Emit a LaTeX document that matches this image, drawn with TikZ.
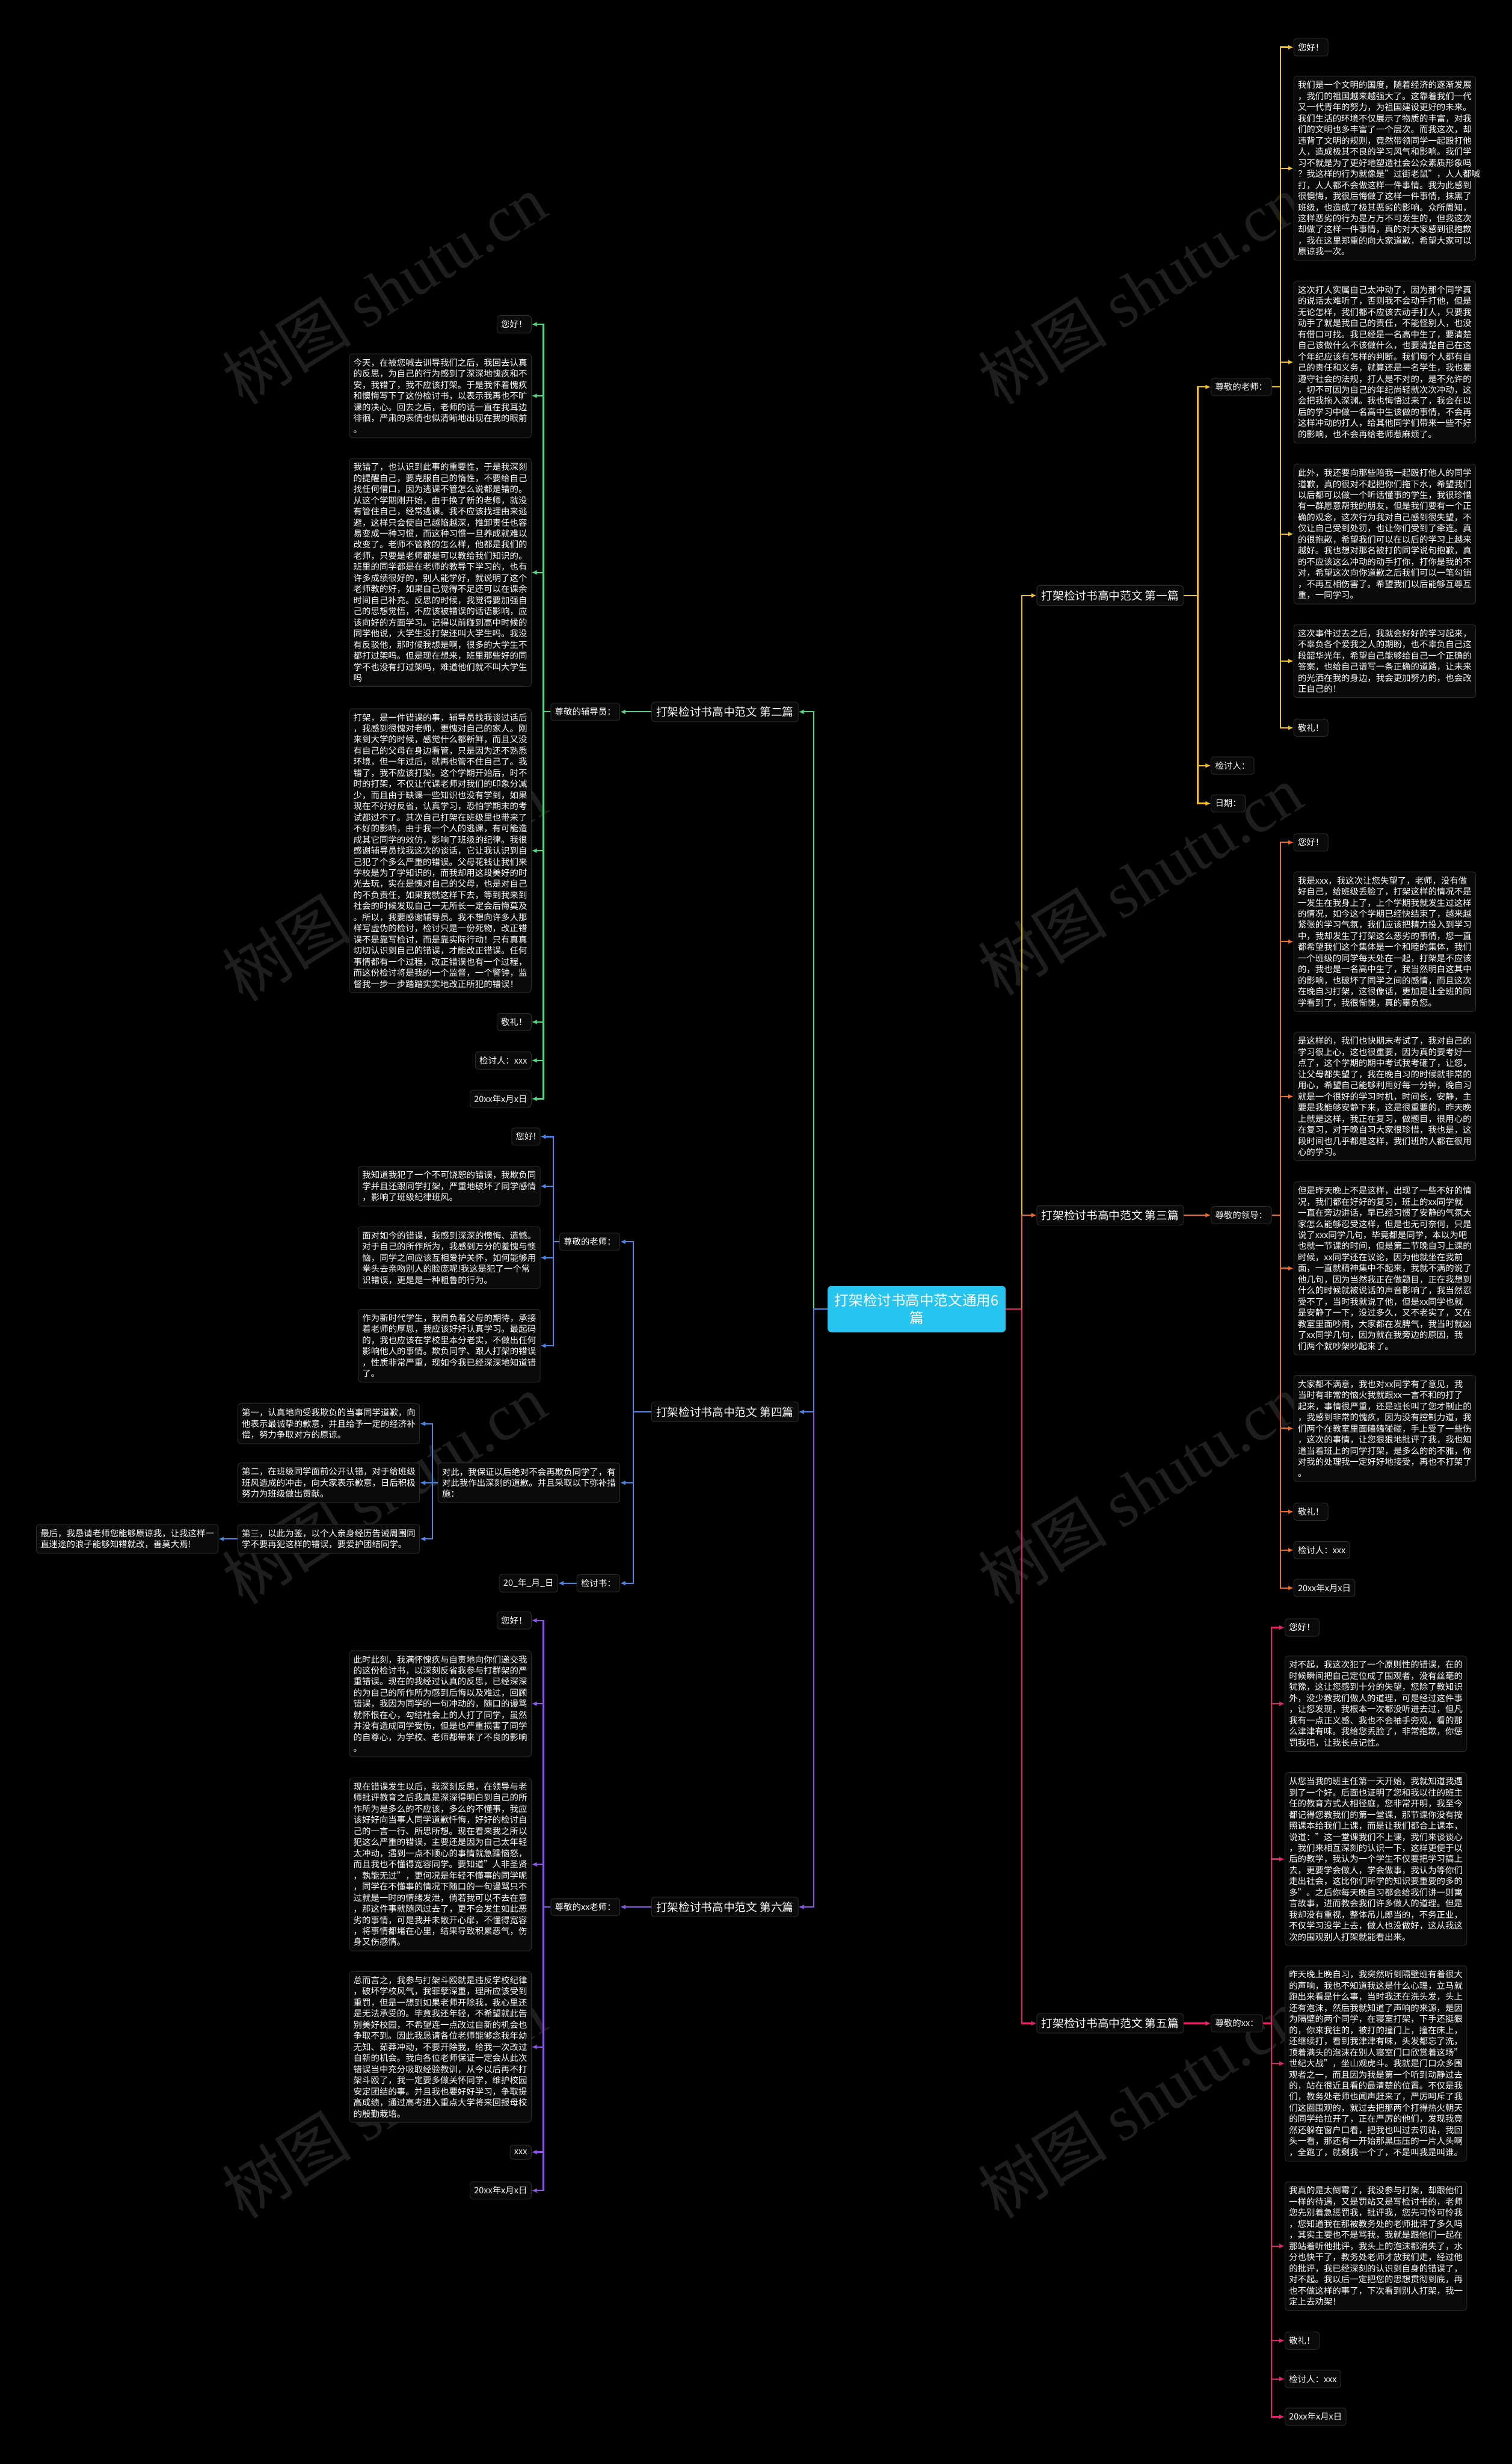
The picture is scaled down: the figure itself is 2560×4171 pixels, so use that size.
\documentclass[tikz,border=0pt]{standalone}
\usepackage{fontspec}
\setmainfont{Noto Sans CJK SC}
\newfontfamily\wmserif{Liberation Serif}
\usetikzlibrary{arrows.meta}
\definecolor{cyel}{RGB}{240,192,40}
\definecolor{corg}{RGB}{238,106,44}
\definecolor{cpink}{RGB}{228,36,106}
\definecolor{cgrn}{RGB}{80,218,128}
\definecolor{cblu}{RGB}{74,134,232}
\definecolor{cpur}{RGB}{142,84,232}
\definecolor{ccyan}{RGB}{40,196,240}
\definecolor{boxf}{RGB}{10,10,10}
\definecolor{boxb}{RGB}{42,42,42}
\definecolor{wmc}{RGB}{30,30,30}
\newcommand\leaffont{\fontsize{14.7}{18.8}\selectfont}
\newcommand\lonefont{\fontsize{19}{23}\selectfont}
\newcommand\ctrfont{\fontsize{24}{30}\selectfont}
\newcommand\wmfont{\fontsize{110}{114}\selectfont}
\begin{document}
\begin{tikzpicture}[x=1pt,y=-1pt,
  box/.style={draw=boxb, line width=1pt, fill=boxf, rounded corners=5pt, text=white, font=\leaffont, inner xsep=7pt, inner ysep=8pt},
  para/.style={box, text width=294pt, align=left},
  lone/.style={box, font=\lonefont, inner xsep=8pt, inner ysep=8pt},
  ctr/.style={fill=ccyan, rounded corners=6pt, text=white, font=\ctrfont, align=center, inner xsep=12pt, inner ysep=13pt},
  conn/.style={line width=2.2pt, -{Latex[length=9pt,width=8pt]}},
  wm/.style={text=wmc, font=\wmfont, rotate=32, inner sep=0pt}]
\fill[black] (0,0) rectangle (2560,4171);
\useasboundingbox (0,0) rectangle (2560,4171);
% watermarks
\node[wm] (wm1) at (650,490) {树图 {\wmserif shutu.cn}};
\node[wm] (wm2) at (1930,490) {树图 {\wmserif shutu.cn}};
\node[wm] (wm3) at (650,1500) {树图 {\wmserif shutu.cn}};
\node[wm] (wm4) at (1930,1490) {树图 {\wmserif shutu.cn}};
\node[wm] (wm5) at (650,2520) {树图 {\wmserif shutu.cn}};
\node[wm] (wm6) at (1930,2520) {树图 {\wmserif shutu.cn}};
\node[wm] (wm7) at (650,3560) {树图 {\wmserif shutu.cn}};
\node[wm] (wm8) at (1930,3560) {树图 {\wmserif shutu.cn}};

% center
\node[ctr] (ctr) at (1552,2216) {打架检讨书高中范文通用6\\篇};
\coordinate (cR) at (1730,2216);
\coordinate (cL) at (1378,2216);

% level 1
\node[lone, anchor=west] (b1) at (1755,1008) {打架检讨书高中范文 第一篇};
\node[lone, anchor=west] (b3) at (1755,2057) {打架检讨书高中范文 第三篇};
\node[lone, anchor=west] (b5) at (1755,3425) {打架检讨书高中范文 第五篇};
\node[lone, anchor=east] (b2) at (1352,1205) {打架检讨书高中范文 第二篇};
\node[lone, anchor=east] (b4) at (1352,2390) {打架检讨书高中范文 第四篇};
\node[lone, anchor=east] (b6) at (1352,3228) {打架检讨书高中范文 第六篇};

\draw[conn, cyel] (ctr.east) -- (cR) |- (b1.west);
\draw[conn, corg] (ctr.east) -- (cR) |- (b3.west);
\draw[conn, cpink] (ctr.east) -- (cR) |- (b5.west);
\draw[conn, cgrn] (ctr.west) -- (cL) |- (b2.east);
\draw[conn, cpur] (ctr.west) -- (cL) |- (b6.east);
\draw[conn, cblu] (ctr.west) -- (cL) |- (b4.east);

% ================= branch 1 (yellow)
\node[box, anchor=west] (r1t) at (2050,655) {尊敬的老师：};
\node[box, anchor=west] (r1r) at (2050,1296) {检讨人：};
\node[box, anchor=west] (r1d) at (2050,1360) {日期：};
\coordinate (v1) at (2028,1008);
\draw[conn, cyel] (b1.east) -- (v1) |- (r1t.west);
\draw[conn, cyel] (b1.east) -- (v1) |- (r1r.west);
\draw[conn, cyel] (b1.east) -- (v1) |- (r1d.west);

\node[box, anchor=west] (r1hi) at (2190,80) {您好！};
\node[para, anchor=west] (r1p1) at (2190,285) {我们是一个文明的国度，随着经济的逐渐发展\\，我们的祖国越来越强大了。这靠着我们一代\\又一代青年的努力，为祖国建设更好的未来。\\我们生活的环境不仅展示了物质的丰富，对我\\们的文明也多丰富了一个层次。而我这次，却\\违背了文明的规则，竟然带领同学一起殴打他\\人，造成极其不良的学习风气和影响。我们学\\习不就是为了更好地塑造社会公众素质形象吗\\？我这样的行为就像是"过街老鼠"，人人都喊\\打，人人都不会做这样一件事情。我为此感到\\很懊悔，我很后悔做了这样一件事情，抹黑了\\班级，也造成了极其恶劣的影响。众所周知，\\这样恶劣的行为是万万不可发生的，但我这次\\却做了这样一件事情，真的对大家感到很抱歉\\，我在这里郑重的向大家道歉，希望大家可以\\原谅我一次。};
\node[para, anchor=west] (r1p2) at (2190,613) {这次打人实属自己太冲动了，因为那个同学真\\的说话太难听了，否则我不会动手打他，但是\\无论怎样，我们都不应该去动手打人，只要我\\动手了就是我自己的责任，不能怪别人，也没\\有借口可找。我已经是一名高中生了，要清楚\\自己该做什么不该做什么，也要清楚自己在这\\个年纪应该有怎样的判断。我们每个人都有自\\己的责任和义务，就算还是一名学生，我也要\\遵守社会的法规，打人是不对的，是不允许的\\，切不可因为自己的年纪尚轻就次次冲动，这\\会把我拖入深渊。我也悔悟过来了，我会在以\\后的学习中做一名高中生该做的事情，不会再\\这样冲动的打人，给其他同学们带来一些不好\\的影响，也不会再给老师惹麻烦了。};
\node[para, anchor=west] (r1p3) at (2190,904) {此外，我还要向那些陪我一起殴打他人的同学\\道歉，真的很对不起把你们拖下水，希望我们\\以后都可以做一个听话懂事的学生，我很珍惜\\有一群愿意帮我的朋友，但是我们要有一个正\\确的观念，这次行为我对自己感到很失望，不\\仅让自己受到处罚，也让你们受到了牵连。真\\的很抱歉，希望我们可以在以后的学习上越来\\越好。我也想对那名被打的同学说句抱歉，真\\的不应该这么冲动的动手打你，打你是我的不\\对，希望这次向你道歉之后我们可以一笔勾销\\，不再互相伤害了。希望我们以后能够互尊互\\重，一同学习。};
\node[para, anchor=west] (r1p4) at (2190,1119) {这次事件过去之后，我就会好好的学习起来，\\不辜负各个爱我之人的期盼，也不辜负自己这\\段韶华光年，希望自己能够给自己一个正确的\\答案，也给自己谱写一条正确的道路，让未来\\的光洒在我的身边，我会更加努力的，也会改\\正自己的！};
\node[box, anchor=west] (r1jl) at (2190,1232) {敬礼！};
\coordinate (v1a) at (2168,655);
\foreach \n in {r1hi,r1p1,r1p2,r1p3,r1p4,r1jl}
  \draw[conn, cyel] (r1t.east) -- (v1a) |- (\n.west);

% ================= branch 3 (orange)
\node[box, anchor=west] (r3t) at (2050,2057) {尊敬的领导：};
\draw[conn, corg] (b3.east) -- (r3t.west);
\node[box, anchor=west] (r3hi) at (2190,1426) {您好！};
\node[para, anchor=west] (r3p1) at (2190,1594) {我是xxx，我这次让您失望了，老师，没有做\\好自己，给班级丢脸了，打架这样的情况不是\\一发生在我身上了，上个学期我就发生过这样\\的情况，如今这个学期已经快结束了，越来越\\紧张的学习气氛，我们应该把精力投入到学习\\中，我却发生了打架这么恶劣的事情，您一直\\都希望我们这个集体是一个和睦的集体，我们\\一个班级的同学每天处在一起，打架是不应该\\的，我也是一名高中生了，我当然明白这其中\\的影响，也破坏了同学之间的感情，而且这次\\在晚自习打架，这很像话，更加是让全班的同\\学看到了，我很惭愧，真的辜负您。};
\node[para, anchor=west] (r3p2) at (2190,1856) {是这样的，我们也快期末考试了，我对自己的\\学习很上心，这也很重要，因为真的要考好一\\点了，这个学期的期中考试我考砸了，让您，\\让父母都失望了，我在晚自习的时候就非常的\\用心，希望自己能够利用好每一分钟，晚自习\\就是一个很好的学习时机，时间长，安静，主\\要是我能够安静下来，这是很重要的，昨天晚\\上就是这样，我正在复习，做题目，很用心的\\在复习，对于晚自习大家很珍惜，我也是，这\\段时间也几乎都是这样，我们班的人都在很用\\心的学习。};
\node[para, anchor=west] (r3p3) at (2190,2147) {但是昨天晚上不是这样，出现了一些不好的情\\况，我们都在好好的复习，班上的xx同学就\\一直在旁边讲话，早已经习惯了安静的气氛大\\家怎么能够忍受这样，但是也无可奈何，只是\\说了xxx同学几句，毕竟都是同学，本以为吧\\也就一节课的时间，但是第二节晚自习上课的\\时候，xx同学还在议论，因为他就坐在我前\\面，一直就精神集中不起来，我就不满的说了\\他几句，因为当然我正在做题目，正在我想到\\什么的时候就被说话的声音影响了，我当然忍\\受不了，当时我就说了他，但是xx同学也就\\是安静了一下，没过多久，又不老实了，又在\\教室里面吵闹，大家都在发脾气，我当时就凶\\了xx同学几句，因为就在我旁边的原因，我\\们两个就吵架吵起来了。};
\node[para, anchor=west] (r3p4) at (2190,2418) {大家都不满意，我也对xx同学有了意见，我\\当时有非常的恼火我就跟xx一言不和的打了\\起来，事情很严重，还是班长叫了您才制止的\\，我感到非常的愧疚，因为没有控制力道，我\\们两个在教室里面磕磕碰碰，手上受了一些伤\\，这次的事情，让您狠狠地批评了我，我也知\\道当着班上的同学打架，是多么的的不雅，你\\对我的处理我一定好好地接受，再也不打架了\\。};
\node[box, anchor=west] (r3jl) at (2190,2559) {敬礼！};
\node[box, anchor=west] (r3r) at (2190,2624) {检讨人：xxx};
\node[box, anchor=west] (r3d) at (2190,2688) {20xx年x月x日};
\coordinate (v3) at (2168,2057);
\foreach \n in {r3hi,r3p1,r3p2,r3p3,r3p4,r3jl,r3r,r3d}
  \draw[conn, corg] (r3t.east) -- (v3) |- (\n.west);

% ================= branch 5 (pink)
\node[box, anchor=west] (r5t) at (2050,3425) {尊敬的xx：};
\draw[conn, cpink] (b5.east) -- (r5t.west);
\node[box, anchor=west] (r5hi) at (2175,2755) {您好！};
\node[para, anchor=west] (r5p1) at (2175,2884) {对不起，我这次犯了一个原则性的错误，在的\\时候瞬间把自己定位成了围观者，没有丝毫的\\犹豫，这让您感到十分的失望，您除了教知识\\外，没少教我们做人的道理，可是经过这件事\\，让您发现，我根本一次都没听进去过，但凡\\我有一点正义感、我也不会袖手旁观，看的那\\么津津有味。我给您丢脸了，非常抱歉，你惩\\罚我吧，让我长点记性。};
\node[para, anchor=west] (r5p2) at (2175,3147) {从您当我的班主任第一天开始，我就知道我遇\\到了一个好。后面也证明了您和我以往的班主\\任的教育方式大相径庭，您非常开明，我至今\\都记得您教我们的第一堂课，那节课你没有按\\照课本给我们上课，而是让我们都合上课本，\\说道："这一堂课我们不上课，我们来谈谈心\\，我们来相互深刻的认识一下，这样更便于以\\后的教学，我认为一个学生不仅要把学习搞上\\去，更要学会做人，学会做事，我认为等你们\\走出社会，这比你们所学的知识要重要的多的\\多"。之后你每天晚自习都会给我们讲一则寓\\言故事，进而教会我们许多做人的道理。但是\\我却没有重视，整体吊儿郎当的，不务正业，\\不仅学习没学上去，做人也没做好，这从我这\\次的围观别人打架就能看出来。};
\node[para, anchor=west] (r5p3) at (2175,3493) {昨天晚上晚自习，我突然听到隔壁班有着很大\\的声响，我也不知道我这是什么心理，立马就\\跑出来看是什么事，当时我还在洗头发，头上\\还有泡沫，然后我就知道了声响的来源，是因\\为隔壁的两个同学，在寝室打架，下手还挺狠\\的，你来我往的，被打的撞门上，撞在床上，\\还继续打，看到我津津有味，头发都忘了洗，\\顶着满头的泡沫在别人寝室门口欣赏着这场"\\世纪大战"，坐山观虎斗。我就是门口众多围\\观者之一，而且因为我是第一个听到动静过去\\的，站在很近且看的最清楚的位置。不仅是我\\们，教务处老师也闻声赶来了，严厉呵斥了我\\们这圈围观的，就过去把那两个打得热火朝天\\的同学给拉开了，正在严厉的他们，发现我竟\\然还躲在窗户口看，把我也叫过去罚站，我回\\头一看，那还有一开始那黑压压的一片人头啊\\，全跑了，就剩我一个了，不是叫我是叫谁。};
\node[para, anchor=west] (r5p4) at (2175,3802) {我真的是太倒霉了，我没参与打架，却跟他们\\一样的待遇，又是罚站又是写检讨书的，老师\\您先别着急惩罚我，批评我，您先可怜可怜我\\，您知道我在那被教务处的老师批评了多久吗\\，其实主要也不是骂我，我就是跟他们一起在\\那站着听他批评，我头上的泡沫都消失了，水\\分也快干了，教务处老师才放我们走，经过他\\的批评，我已经深刻的认识到自身的错误了，\\对不起。我以后一定把您的思想贯彻到底，再\\也不做这样的事了，下次看到别人打架，我一\\定上去劝架！};
\node[box, anchor=west] (r5jl) at (2175,3962) {敬礼！};
\node[box, anchor=west] (r5r) at (2175,4027) {检讨人：xxx};
\node[box, anchor=west] (r5d) at (2175,4091) {20xx年x月x日};
\coordinate (v5) at (2153,3425);
\foreach \n in {r5hi,r5p1,r5p2,r5p3,r5p4,r5jl,r5r,r5d}
  \draw[conn, cpink] (r5t.east) -- (v5) |- (\n.west);

% ================= branch 2 (green)
\node[box, anchor=east] (l2t) at (1050,1205) {尊敬的辅导员：};
\draw[conn, cgrn] (b2.west) -- (l2t.east);
\node[box, anchor=east] (l2hi) at (900,549) {您好！};
\node[para, anchor=east] (l2p1) at (900,670) {今天，在被您喊去训导我们之后，我回去认真\\的反思，为自己的行为感到了深深地愧疚和不\\安，我错了，我不应该打架。于是我怀着愧疚\\和懊悔写下了这份检讨书，以表示我再也不旷\\课的决心。回去之后，老师的话一直在我耳边\\徘徊，严肃的表情也似清晰地出现在我的眼前\\。};
\node[para, anchor=east] (l2p2) at (900,969) {我错了，也认识到此事的重要性，于是我深刻\\的提醒自己，要克服自己的惰性，不要给自己\\找任何借口，因为逃课不管怎么说都是错的。\\从这个学期刚开始，由于换了新的老师，就没\\有管住自己，经常逃课。我不应该找理由来逃\\避，这样只会使自己越陷越深，推卸责任也容\\易变成一种习惯，而这种习惯一旦养成就难以\\改变了。老师不管教的怎么样，他都是我们的\\老师，只要是老师都是可以教给我们知识的。\\班里的同学都是在老师的教导下学习的，也有\\许多成绩很好的，别人能学好，就说明了这个\\老师教的好，如果自己觉得不足还可以在课余\\时间自己补充。反思的时候，我觉得要加强自\\己的思想觉悟，不应该被错误的话语影响，应\\该向好的方面学习。记得以前碰到高中时候的\\同学他说，大学生没打架还叫大学生吗。我没\\有反驳他，那时候我想是啊，很多的大学生不\\都打过架吗。但是现在想来，班里那些好的同\\学不也没有打过架吗，难道他们就不叫大学生\\吗};
\node[para, anchor=east] (l2p3) at (900,1440) {打架，是一件错误的事，辅导员找我谈过话后\\，我感到很愧对老师，更愧对自己的家人。刚\\来到大学的时候，感觉什么都新鲜，而且又没\\有自己的父母在身边看管，只是因为还不熟悉\\环境，但一年过后，就再也管不住自己了。我\\错了，我不应该打架。这个学期开始后，时不\\时的打架，不仅让代课老师对我们的印象分减\\少，而且由于缺课一些知识也没有学到，如果\\现在不好好反省，认真学习，恐怕学期末的考\\试都过不了。其次自己打架在班级里也带来了\\不好的影响，由于我一个人的逃课，有可能造\\成其它同学的效仿，影响了班级的纪律。我很\\感谢辅导员找我这次的谈话，它让我认识到自\\己犯了个多么严重的错误。父母花钱让我们来\\学校是为了学知识的，而我却用这段美好的时\\光去玩，实在是愧对自己的父母，也是对自己\\的不负责任，如果我就这样下去，等到我来到\\社会的时候发现自己一无所长一定会后悔莫及\\。所以，我要感谢辅导员。我不想向许多人那\\样写虚伪的检讨，检讨只是一份死物，改正错\\误不是靠写检讨，而是靠实际行动！只有真真\\切切认识到自己的错误，才能改正错误。任何\\事情都有一个过程，改正错误也有一个过程，\\而这份检讨将是我的一个监督，一个警钟，监\\督我一步一步踏踏实实地改正所犯的错误！};
\node[box, anchor=east] (l2jl) at (900,1730) {敬礼！};
\node[box, anchor=east] (l2r) at (900,1795) {检讨人：xxx};
\node[box, anchor=east] (l2d) at (900,1860) {20xx年x月x日};
\coordinate (v2) at (920,1205);
\foreach \n in {l2hi,l2p1,l2p2,l2p3,l2jl,l2r,l2d}
  \draw[conn, cgrn] (l2t.west) -- (v2) |- (\n.east);

% ================= branch 4 (blue)
\coordinate (v4) at (1072,2390);
\node[box, anchor=east] (l4t) at (1050,2102) {尊敬的老师：};
\node[para, anchor=east] (l4d) at (1050,2510) {对此，我保证以后绝对不会再欺负同学了，有\\对此我作出深刻的道歉。并且采取以下弥补措\\施：};
\node[box, anchor=east] (l4s) at (1050,2680) {检讨书：};
\foreach \n in {l4t,l4d,l4s}
  \draw[conn, cblu] (b4.west) -- (v4) |- (\n.east);

\node[box, anchor=east] (l4hi) at (915,1924) {您好!};
\node[para, anchor=east] (l4p1) at (915,2008) {我知道我犯了一个不可饶恕的错误，我欺负同\\学并且还跟同学打架，严重地破坏了同学感情\\，影响了班级纪律班风。};
\node[para, anchor=east] (l4p2) at (915,2129) {面对如今的错误，我感到深深的懊悔、遗憾。\\对于自己的所作所为，我感到万分的羞愧与懊\\恼，同学之间应该互相爱护关怀，如何能够用\\拳头去亲吻别人的脸庞呢!我这是犯了一个常\\识错误，更是是一种粗鲁的行为。};
\node[para, anchor=east] (l4p3) at (915,2278) {作为新时代学生，我肩负着父母的期待，承接\\着老师的厚恩，我应该好好认真学习。最起码\\的，我也应该在学校里本分老实，不做出任何\\影响他人的事情。欺负同学、跟人打架的错误\\，性质非常严重，现如今我已经深深地知道错\\了。};
\coordinate (v4a) at (937,2102);
\foreach \n in {l4hi,l4p1,l4p2,l4p3}
  \draw[conn, cblu] (l4t.west) -- (v4a) |- (\n.east);

\node[para, anchor=east] (l4f1) at (711,2410) {第一，认真地向受我欺负的当事同学道歉，向\\他表示最诚挚的歉意，并且给予一定的经济补\\偿，努力争取对方的原谅。};
\node[para, anchor=east] (l4f2) at (711,2510) {第二，在班级同学面前公开认错，对于给班级\\班风造成的冲击，向大家表示歉意，日后积极\\努力为班级做出贡献。};
\node[para, anchor=east] (l4f3) at (711,2605) {第三，以此为鉴，以个人亲身经历告诫周围同\\学不要再犯这样的错误，要爱护团结同学。};
\coordinate (v4b) at (732,2510);
\foreach \n in {l4f1,l4f2,l4f3}
  \draw[conn, cblu] (l4d.west) -- (v4b) |- (\n.east);
\node[para, anchor=east] (l4f4) at (370,2605) {最后，我恳请老师您能够原谅我，让我这样一\\直迷途的浪子能够知错就改，善莫大焉!};
\draw[conn, cblu] (l4f3.west) -- (l4f4.east);
\node[box, anchor=east] (l4dt) at (945,2680) {20\_年\_月\_日};
\draw[conn, cblu] (l4s.west) -- (l4dt.east);

% ================= branch 6 (purple)
\node[box, anchor=east] (l6t) at (1050,3228) {尊敬的xx老师：};
\draw[conn, cpur] (b6.west) -- (l6t.east);
\node[box, anchor=east] (l6hi) at (900,2743) {您好！};
\node[para, anchor=east] (l6p1) at (900,2884) {此时此刻，我满怀愧疚与自责地向你们递交我\\的这份检讨书，以深刻反省我参与打群架的严\\重错误。现在的我经过认真的反思，已经深深\\的为自己的所作所为感到后悔以及难过，回顾\\错误，我因为同学的一句冲动的，随口的谩骂\\就怀恨在心，勾结社会上的人打了同学，虽然\\并没有造成同学受伤，但是也严重损害了同学\\的自尊心，为学校、老师都带来了不良的影响\\。};
\node[para, anchor=east] (l6p2) at (900,3156) {现在错误发生以后，我深刻反思，在领导与老\\师批评教育之后我真是深深得明白到自己的所\\作所为是多么的不应该，多么的不懂事，我应\\该好好向当事人同学道歉忏悔，好好的检讨自\\己的一言一行、所思所想。现在看来我之所以\\犯这么严重的错误，主要还是因为自己太年轻\\太冲动，遇到一点不顺心的事情就急躁恼怒，\\而且我也不懂得宽容同学。要知道"人非圣贤\\，孰能无过"，更何况是年轻不懂事的同学呢\\，同学在不懂事的情况下随口的一句谩骂只不\\过就是一时的情绪发泄，倘若我可以不去在意\\，那这件事就随风过去了，更不会发生如此恶\\劣的事情，可是我并未敞开心扉，不懂得宽容\\，将事情都堵在心里，结果导致积累恶气，伤\\身又伤感情。};
\node[para, anchor=east] (l6p3) at (900,3465) {总而言之，我参与打架斗殴就是违反学校纪律\\，破坏学校风气，我罪孽深重，理所应该受到\\重罚，但是一想到如果老师开除我，我心里还\\是无法承受的。毕竟我还年轻，不希望就此告\\别美好校园，不希望连一点改过自新的机会也\\争取不到。因此我恳请各位老师能够念我年幼\\无知、茹莽冲动，不要开除我，给我一次改过\\自新的机会。我向各位老师保证一定会从此次\\错误当中充分吸取经验教训，从今以后再不打\\架斗殴了，我一定要多做关怀同学，维护校园\\安定团结的事。并且我也要好好学习，争取提\\高成绩，通过高考进入重点大学将来回报母校\\的殷勤栽培。};
\node[box, anchor=east] (l6x) at (900,3643) {xxx};
\node[box, anchor=east] (l6d) at (900,3708) {20xx年x月x日};
\coordinate (v6) at (920,3228);
\foreach \n in {l6hi,l6p1,l6p2,l6p3,l6x,l6d}
  \draw[conn, cpur] (l6t.west) -- (v6) |- (\n.east);
\end{tikzpicture}
\end{document}
